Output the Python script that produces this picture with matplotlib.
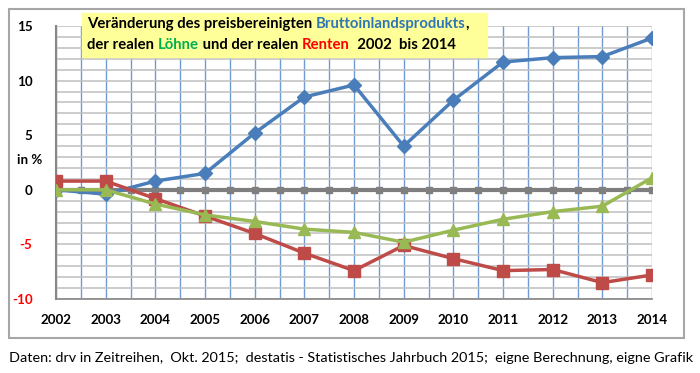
import numpy as np
import matplotlib
matplotlib.use("Agg")
import matplotlib.pyplot as plt
from matplotlib.patches import Rectangle

plt.rcParams["font.family"] = ["Lato", "DejaVu Sans"]

years = list(range(2002, 2015))
bip = [0.0, -0.4, 0.8, 1.5, 5.2, 8.5, 9.6, 4.0, 8.2, 11.7, 12.1, 12.2, 13.9]
renten = [0.8, 0.8, -0.8, -2.4, -4.0, -5.8, -7.4, -5.1, -6.3, -7.4, -7.3, -8.5, -7.8]
loehne = [0.0, 0.0, -1.3, -2.3, -2.9, -3.6, -3.9, -4.8, -3.7, -2.7, -2.0, -1.5, 1.1]
y_ticks = [-10, -5, 0, 5, 10, 15]

BLUE = "#4A7EBB"
RED = "#BE4B48"
GREEN = "#98B954"
GRID_V = "#6F9AD3"
GRID_H = "#BFBFBF"

fig = plt.figure(figsize=(7.0, 3.73), dpi=100)
W, H = 700, 373


def fx(px):
    return px / W


def fy(py):
    return 1 - py / H


# outer frame
fig.patches.append(Rectangle((fx(9), fy(338)), fx(684) - fx(9), fy(9) - fy(338),
                             transform=fig.transFigure, fill=False,
                             edgecolor="#A6A6A6", lw=1.5))

ax = fig.add_axes([fx(56), fy(299), fx(652) - fx(56), fy(26) - fy(299)])
ax.set_xlim(2002, 2014)
ax.set_ylim(-10, 15)

ax.set_xticks(years)
ax.set_xticks(np.arange(2002.5, 2014, 1.0), minor=True)
ax.set_yticks(y_ticks)
ax.set_yticks(np.arange(-10, 16, 1), minor=True)
ax.grid(True, axis="y", which="both", color=GRID_H, lw=1.1)
ax.grid(True, axis="x", which="both", color=GRID_V, lw=1.0)
ax.set_axisbelow(True)
ax.tick_params(which="both", length=0)
ax.set_xticklabels([str(y) for y in years], fontsize=9.6, fontweight="bold")
ax.set_yticklabels([str(v) for v in y_ticks], fontsize=9.6, fontweight="bold")
for lab, v in zip(ax.get_yticklabels(), y_ticks):
    lab.set_color("#FF0000" if v < 0 else "black")
ax.tick_params(axis="x", pad=11)
ax.tick_params(axis="y", pad=17)

for s in ["top", "right"]:
    ax.spines[s].set_visible(False)
ax.spines["left"].set_color("#868686")
ax.spines["left"].set_linewidth(1.5)
ax.spines["bottom"].set_color("#868686")
ax.spines["bottom"].set_linewidth(1.2)

# zero line with tick marks
ax.axhline(0, color="#7F7F7F", lw=3, zorder=2)
ax.plot(np.arange(2002, 2014.01, 0.5), [0] * 25, ls="none", marker="s",
        ms=4, color="#7F7F7F", zorder=2)

ax.plot(years, bip, color=BLUE, lw=2.5, marker="D", ms=7.5, zorder=4)
ax.plot(years, renten, color=RED, lw=2.5, marker="s", ms=8, zorder=4)
ax.plot(years, loehne, color=GREEN, lw=2.5, marker="^", ms=9, zorder=5)

fig.text(fx(30), fy(160), "in %", fontsize=9.6, fontweight="bold",
         ha="center", va="center")

# title box
fig.patches.append(Rectangle((fx(82), fy(57)), fx(487) - fx(82), fy(13) - fy(57),
                             transform=fig.transFigure, color="#FFFF99", zorder=5))

fig.canvas.draw()
renderer = fig.canvas.get_renderer()


def colored_line(parts, x0, y0, size):
    x = x0
    for txt, col in parts:
        t = fig.text(x, y0, txt, color=col, fontsize=size, fontweight="bold",
                     ha="left", va="center", zorder=6)
        bb = t.get_window_extent(renderer=renderer)
        x += bb.width / W


colored_line([("Veränderung des preisbereinigten ", "black"),
              ("Bruttoinlandsprodukts", "#2E75B6"),
              (",", "black")], fx(87), fy(24), 10.7)
colored_line([("der realen ", "black"),
              ("Löhne", "#00B050"),
              (" und der realen ", "black"),
              ("Renten", "#FF0000"),
              ("  2002  bis 2014", "black")], fx(87), fy(45), 10.7)

fig.text(fx(9), fy(358),
         "Daten: drv in Zeitreihen,  Okt. 2015;  destatis - Statistisches Jahrbuch 2015;  eigne Berechnung, eigne Grafik",
         fontsize=10.35, ha="left", va="center")

fig.savefig("out.png", dpi=100)
